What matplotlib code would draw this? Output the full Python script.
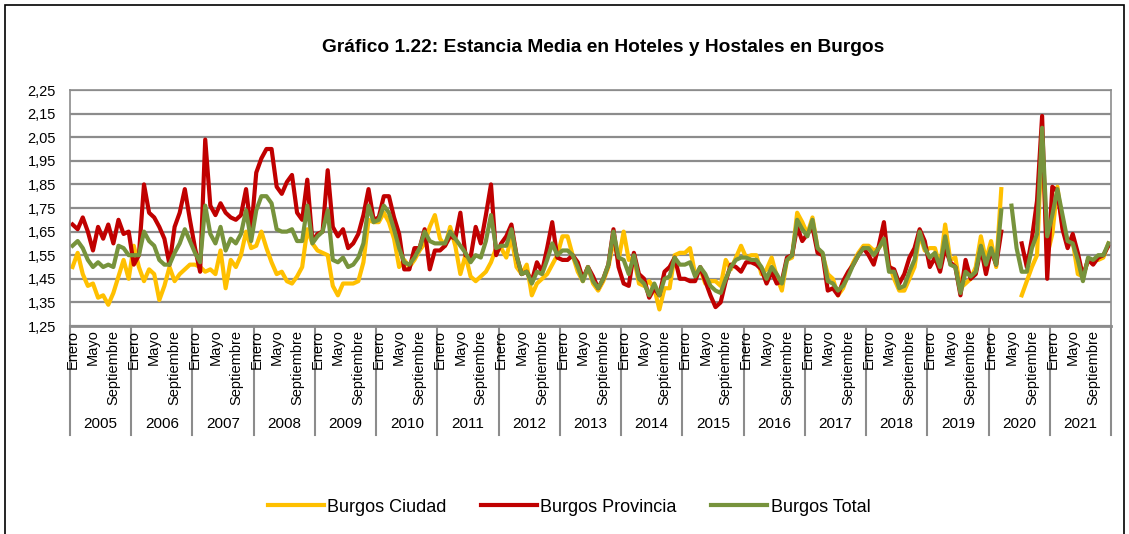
import numpy as np
import matplotlib
matplotlib.use("Agg")
import matplotlib.pyplot as plt
import matplotlib.transforms as mtransforms
from matplotlib.ticker import FuncFormatter
from matplotlib.patches import Rectangle

nan = np.nan

years = [str(y) for y in range(2005, 2022)]
month_labels = {0: "Enero", 4: "Mayo", 8: "Septiembre"}
y_ticks = [1.25, 1.35, 1.45, 1.55, 1.65, 1.75, 1.85, 1.95, 2.05, 2.15, 2.25]

# estancia media mensual, una fila por año (ene..dic)
ciudad = [
    1.50, 1.56, 1.47, 1.42, 1.43, 1.37, 1.38, 1.34, 1.39, 1.46, 1.53, 1.45,
    1.59, 1.50, 1.44, 1.49, 1.47, 1.36, 1.42, 1.50, 1.44, 1.47, 1.49, 1.51,
    1.51, 1.50, 1.48, 1.49, 1.47, 1.57, 1.41, 1.53, 1.50, 1.55, 1.65, 1.58,
    1.59, 1.65, 1.58, 1.52, 1.47, 1.48, 1.44, 1.43, 1.46, 1.50, 1.66, 1.60,
    1.57, 1.56, 1.55, 1.42, 1.38, 1.43, 1.43, 1.43, 1.44, 1.52, 1.70, 1.69,
    1.69, 1.73, 1.69, 1.62, 1.50, 1.53, 1.50, 1.53, 1.57, 1.60, 1.67, 1.72,
    1.62, 1.59, 1.67, 1.59, 1.47, 1.55, 1.46, 1.44, 1.46, 1.48, 1.52, 1.58,
    1.58, 1.54, 1.63, 1.50, 1.47, 1.51, 1.38, 1.43, 1.45, 1.47, 1.51, 1.55,
    1.63, 1.63, 1.55, 1.48, 1.44, 1.50, 1.43, 1.40, 1.44, 1.50, 1.61, 1.53,
    1.65, 1.53, 1.54, 1.43, 1.42, 1.44, 1.41, 1.32, 1.41, 1.41, 1.55, 1.56,
    1.56, 1.58, 1.47, 1.49, 1.43, 1.44, 1.44, 1.42, 1.53, 1.49, 1.54, 1.59,
    1.54, 1.55, 1.55, 1.47, 1.49, 1.54, 1.46, 1.40, 1.53, 1.54, 1.73, 1.69,
    1.64, 1.71, 1.58, 1.55, 1.47, 1.45, 1.38, 1.41, 1.47, 1.52, 1.56, 1.59,
    1.59, 1.57, 1.58, 1.61, 1.51, 1.45, 1.40, 1.40, 1.45, 1.50, 1.64, 1.57,
    1.58, 1.58, 1.50, 1.68, 1.53, 1.54, 1.41, 1.43, 1.45, 1.50, 1.63, 1.53,
    1.61, 1.50, 1.83, nan, nan, nan, 1.38, 1.44, 1.50, 1.55, 2.05, 1.55,
    1.64, 1.84, 1.67, 1.60, 1.61, 1.47, 1.46, 1.53, 1.53, 1.53, 1.54, 1.60,
]

provincia = [
    1.68, 1.66, 1.71, 1.65, 1.57, 1.67, 1.62, 1.68, 1.60, 1.70, 1.64, 1.65,
    1.51, 1.55, 1.85, 1.73, 1.71, 1.67, 1.62, 1.51, 1.67, 1.73, 1.83, 1.70,
    1.58, 1.48, 2.04, 1.76, 1.72, 1.77, 1.73, 1.71, 1.70, 1.72, 1.83, 1.65,
    1.90, 1.96, 2.00, 2.00, 1.84, 1.81, 1.86, 1.89, 1.73, 1.70, 1.87, 1.61,
    1.64, 1.65, 1.91, 1.67, 1.63, 1.66, 1.58, 1.60, 1.64, 1.72, 1.83, 1.70,
    1.71, 1.80, 1.80, 1.71, 1.64, 1.49, 1.49, 1.58, 1.58, 1.66, 1.49, 1.57,
    1.57, 1.59, 1.63, 1.62, 1.73, 1.55, 1.54, 1.67, 1.60, 1.72, 1.85, 1.55,
    1.60, 1.63, 1.68, 1.55, 1.47, 1.48, 1.44, 1.52, 1.48, 1.58, 1.69, 1.54,
    1.53, 1.53, 1.55, 1.52, 1.45, 1.50, 1.46, 1.41, 1.45, 1.51, 1.66, 1.50,
    1.43, 1.42, 1.56, 1.47, 1.45, 1.37, 1.41, 1.38, 1.48, 1.50, 1.54, 1.45,
    1.45, 1.44, 1.44, 1.50, 1.44, 1.38, 1.33, 1.35, 1.44, 1.51, 1.50, 1.48,
    1.52, 1.52, 1.51, 1.49, 1.43, 1.48, 1.43, 1.44, 1.54, 1.55, 1.67, 1.61,
    1.64, 1.67, 1.56, 1.55, 1.40, 1.41, 1.38, 1.44, 1.48, 1.51, 1.55, 1.58,
    1.55, 1.51, 1.59, 1.69, 1.50, 1.49, 1.43, 1.47, 1.54, 1.58, 1.66, 1.61,
    1.50, 1.54, 1.48, 1.58, 1.52, 1.50, 1.38, 1.53, 1.45, 1.47, 1.58, 1.47,
    1.57, 1.51, 1.65, nan, nan, nan, 1.60, 1.50, 1.62, 1.78, 2.14, 1.45,
    1.84, 1.82, 1.66, 1.58, 1.64, 1.56, 1.46, 1.53, 1.51, 1.54, 1.55, 1.59,
]

total = [
    1.59, 1.61, 1.58, 1.53, 1.50, 1.52, 1.50, 1.51, 1.50, 1.59, 1.58, 1.55,
    1.55, 1.55, 1.65, 1.61, 1.59, 1.53, 1.51, 1.51, 1.56, 1.60, 1.66, 1.61,
    1.56, 1.52, 1.76, 1.64, 1.60, 1.67, 1.57, 1.62, 1.60, 1.64, 1.74, 1.61,
    1.74, 1.80, 1.80, 1.77, 1.66, 1.65, 1.65, 1.66, 1.61, 1.61, 1.76, 1.60,
    1.63, 1.65, 1.74, 1.53, 1.52, 1.54, 1.50, 1.51, 1.54, 1.60, 1.76, 1.69,
    1.70, 1.76, 1.73, 1.66, 1.58, 1.52, 1.51, 1.54, 1.58, 1.65, 1.61, 1.60,
    1.60, 1.60, 1.65, 1.62, 1.59, 1.56, 1.52, 1.55, 1.54, 1.61, 1.72, 1.58,
    1.59, 1.59, 1.66, 1.55, 1.47, 1.48, 1.43, 1.48, 1.47, 1.53, 1.60, 1.55,
    1.57, 1.57, 1.55, 1.50, 1.44, 1.50, 1.44, 1.41, 1.45, 1.51, 1.65, 1.54,
    1.53, 1.47, 1.55, 1.45, 1.43, 1.38, 1.43, 1.38, 1.45, 1.46, 1.54, 1.51,
    1.51, 1.52, 1.46, 1.50, 1.47, 1.42, 1.40, 1.39, 1.45, 1.50, 1.53, 1.54,
    1.54, 1.53, 1.53, 1.50, 1.45, 1.50, 1.47, 1.43, 1.53, 1.55, 1.70, 1.66,
    1.63, 1.70, 1.58, 1.56, 1.44, 1.43, 1.40, 1.42, 1.46, 1.51, 1.55, 1.58,
    1.58, 1.55, 1.58, 1.62, 1.48, 1.48, 1.41, 1.42, 1.48, 1.53, 1.65, 1.58,
    1.54, 1.56, 1.50, 1.63, 1.51, 1.50, 1.39, 1.48, 1.46, 1.48, 1.59, 1.51,
    1.58, 1.51, 1.74, nan, 1.76, 1.58, 1.48, 1.48, 1.58, 1.64, 2.09, 1.63,
    1.72, 1.83, 1.72, 1.61, 1.60, 1.53, 1.44, 1.54, 1.53, 1.55, 1.55, 1.60,
]

series = [
    ("Burgos Ciudad", ciudad, "#FFC000"),
    ("Burgos Provincia", provincia, "#C00000"),
    ("Burgos Total", total, "#77933C"),
]

plt.rcParams["font.family"] = ["Liberation Sans", "DejaVu Sans"]

W, H = 1129, 534
fig = plt.figure(figsize=(W / 100, H / 100), dpi=100)
ax = fig.add_axes([70 / W, 1 - 326 / H, (1111 - 70) / W, (326 - 90) / H])

n = len(total)
x = np.arange(n) + 0.5
for name, vals, col in series:
    ax.plot(x, vals, color=col, lw=3.0, label=name, solid_joinstyle="round")

ax.set_xlim(0, n)
ax.set_ylim(1.25, 2.25)
ax.set_yticks(y_ticks)
ax.yaxis.set_major_formatter(FuncFormatter(lambda v, p: f"{v:.2f}".replace(".", ",")))
ax.tick_params(axis="y", length=0, labelsize=10.5, pad=10)
ax.set_xticks([])
ax.grid(axis="y", color="#8c8c8c", lw=1.6)
ax.set_axisbelow(True)
for s in ax.spines.values():
    s.set_color("#8c8c8c")
    s.set_linewidth(1.2)
ax.spines["bottom"].set_linestyle((0, (1, 1)))
ax.spines["bottom"].set_linewidth(2)

# etiquetas de meses y años
trans = mtransforms.blended_transform_factory(ax.transData, ax.transAxes)
for k, yr in enumerate(years):
    base = k * 12
    for m, lab in month_labels.items():
        ax.text(base + m + 0.5, -0.015, lab, rotation=90, ha="center", va="top",
                fontsize=10.5, transform=trans)
    ax.text(base + 6, -0.415, yr, ha="center", va="center", fontsize=11, transform=trans)
for k in range(len(years) + 1):
    ax.plot([k * 12, k * 12], [0, -0.46], color="#8c8c8c", lw=1.5,
            transform=trans, clip_on=False)

fig.text(0.534, 1 - 47 / H, "Gráfico 1.22: Estancia Media en Hoteles y Hostales en Burgos",
         ha="center", va="center", fontsize=13.8, fontweight="bold")

fig.legend(loc="center", bbox_to_anchor=(0.504, 1 - 507 / H), ncol=3, frameon=False,
           fontsize=13, handlelength=3.1, columnspacing=1.9, handletextpad=0.2)

fig.add_artist(Rectangle((5 / W, -0.02), (1124 - 5) / W, 1.02 - 5 / H, transform=fig.transFigure,
                         fill=False, edgecolor="black", lw=1.2, clip_on=False))

fig.savefig("out.png", dpi=100)
